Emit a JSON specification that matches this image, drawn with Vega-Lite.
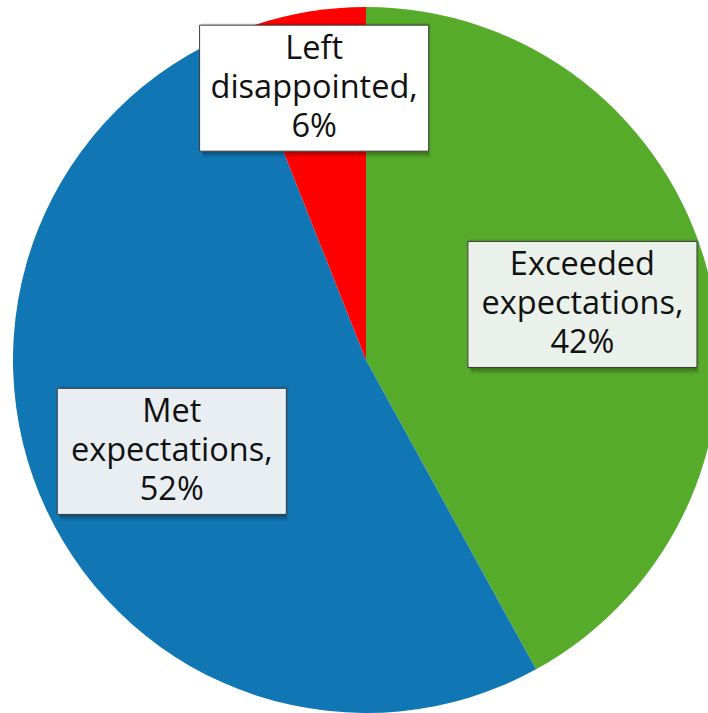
{
  "$schema": "https://vega.github.io/schema/vega-lite/v6.json",
  "width": 708,
  "height": 713,
  "padding": 0,
  "autosize": "none",
  "background": "#ffffff",
  "config": {"view": {"stroke": null}},
  "data": {
    "values": [
      {"category": "Exceeded expectations", "value": 42},
      {"category": "Met expectations", "value": 52},
      {"category": "Left disappointed", "value": 6}
    ]
  },
  "transform": [
    {"window": [{"op": "sum", "field": "value", "as": "cum"}], "frame": [null, 0]},
    {"calculate": "datum.cum - datum.value", "as": "start"},
    {"calculate": "(datum.cum - datum.value / 2) / 100 * 2 * PI", "as": "mid"},
    {"calculate": "datum.value < 10 ? 0.784 : (datum.value < 50 ? 0.633 : 0.608)", "as": "rl"},
    {"calculate": "datum.rl * sin(datum.mid)", "as": "cx"},
    {"calculate": "datum.rl * cos(datum.mid)", "as": "cy"},
    {"calculate": "datum.cx - 0.3245", "as": "bx1"},
    {"calculate": "datum.cx + 0.3245", "as": "bx2"},
    {"calculate": "datum.cy - 0.1785", "as": "by1"},
    {"calculate": "datum.cy + 0.1785", "as": "by2"},
    {"calculate": "replace(datum.category, ' ', '\\n') + ',\\n' + datum.value + '%'", "as": "label"}
  ],
  "layer": [
    {
      "mark": {"type": "arc", "outerRadius": 353},
      "encoding": {
        "x": {"datum": 0, "type": "quantitative", "scale": {"domain": [-1.03683, 0.96884], "nice": false, "zero": false}, "axis": null},
        "y": {"datum": 0, "type": "quantitative", "scale": {"domain": [-1.0, 1.01983], "nice": false, "zero": false}, "axis": null},
        "theta": {"field": "start", "type": "quantitative", "stack": null, "scale": {"domain": [0, 100]}},
        "theta2": {"field": "cum"},
        "color": {
          "field": "category",
          "type": "nominal",
          "scale": {
            "domain": ["Exceeded expectations", "Met expectations", "Left disappointed"],
            "range": ["#56AB2A", "#1177B4", "#FF0000"]
          },
          "legend": null
        }
      }
    },
    {
      "mark": {"type": "rect", "fill": "#000000", "fillOpacity": 0.12, "stroke": "#000000", "strokeOpacity": 0.1, "strokeWidth": 4, "xOffset": 4, "yOffset": 4},
      "encoding": {
        "x": {"field": "bx1", "type": "quantitative"},
        "x2": {"field": "bx2"},
        "y": {"field": "by1", "type": "quantitative"},
        "y2": {"field": "by2"}
      }
    },
    {
      "mark": {"type": "rect", "fill": "#000000", "fillOpacity": 0.2, "xOffset": 2, "yOffset": 2},
      "encoding": {
        "x": {"field": "bx1", "type": "quantitative"},
        "x2": {"field": "bx2"},
        "y": {"field": "by1", "type": "quantitative"},
        "y2": {"field": "by2"}
      }
    },
    {
      "mark": {"type": "rect", "stroke": "#3a3a3a", "strokeWidth": 1, "fillOpacity": 1},
      "encoding": {
        "x": {"field": "bx1", "type": "quantitative"},
        "x2": {"field": "bx2"},
        "y": {"field": "by1", "type": "quantitative"},
        "y2": {"field": "by2"},
        "fill": {
          "field": "category",
          "type": "nominal",
          "scale": {
            "domain": ["Exceeded expectations", "Met expectations", "Left disappointed"],
            "range": ["#EAF1EA", "#E8EEF1", "#FFFFFF"]
          },
          "legend": null
        }
      }
    },
    {
      "mark": {"type": "text", "lineBreak": "\n", "align": "center", "baseline": "middle", "dy": -39, "font": "Open Sans", "fontSize": 32.5, "lineHeight": 39, "color": "#111111"},
      "encoding": {
        "x": {"field": "cx", "type": "quantitative"},
        "y": {"field": "cy", "type": "quantitative"},
        "text": {"field": "label"}
      }
    }
  ]
}
